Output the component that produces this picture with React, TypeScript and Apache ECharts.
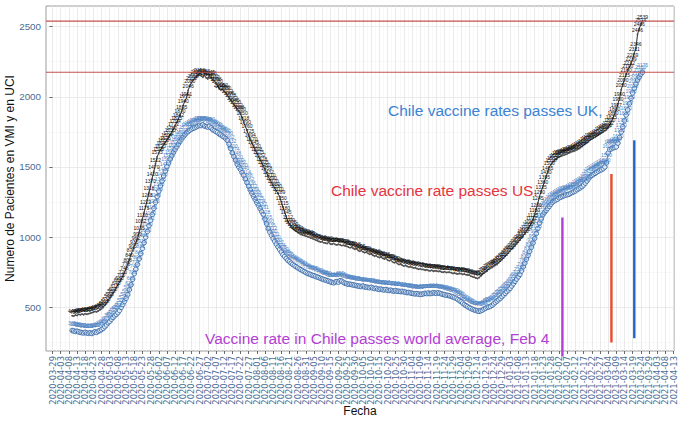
import React, { useEffect, useRef } from "react";
import * as echarts from "echarts";

// Day 0 of the x scale is 2020-03-29; values are daily from firstDay on.
const ORIGIN = Date.UTC(2020, 2, 29);
const firstDay = 12; // 2020-04-10

// Pacientes en UCI (black)
const uciValues = [
  440, 438, 445, 442, 450, 447, 452, 448, 455, 451,
  455, 458, 462, 466, 470, 468, 475, 482, 490, 500,
  515, 530, 548, 565, 582, 600, 618, 640, 660, 680,
  700, 720, 748, 778, 808, 840, 877, 905, 935, 962,
  990, 1035, 1082, 1130, 1175, 1222, 1268, 1318, 1370, 1420,
  1470, 1522, 1573, 1598, 1620, 1640, 1658, 1676, 1694, 1712,
  1730, 1750, 1772, 1794, 1815, 1842, 1870, 1895, 1940, 1971,
  1991, 2046, 2080, 2100, 2118, 2130, 2142, 2150, 2158, 2148,
  2140, 2152, 2135, 2128, 2145, 2138, 2120, 2112, 2098, 2080,
  2055, 2048, 2052, 2038, 2030, 2012, 1995, 1978, 1962, 1945,
  1930, 1912, 1898, 1880, 1850, 1818, 1790, 1760, 1725, 1694,
  1670, 1645, 1620, 1598, 1575, 1552, 1528, 1505, 1480, 1458,
  1432, 1410, 1390, 1370, 1350, 1330, 1310, 1289, 1250, 1215,
  1180, 1145, 1112, 1090, 1075, 1062, 1050, 1042, 1034, 1026,
  1020, 1015, 1012, 1008, 1004, 1000, 995, 990, 985, 980,
  975, 970, 965, 968, 960, 958, 955, 962, 952, 950,
  955, 948, 945, 950, 945, 940, 942, 938, 935, 930,
  925, 928, 920, 915, 918, 905, 900, 905, 895, 890,
  892, 885, 878, 880, 872, 865, 868, 860, 855, 858,
  850, 845, 848, 838, 832, 835, 825, 818, 822, 812,
  805, 808, 800, 795, 798, 792, 788, 790, 785, 780,
  782, 776, 772, 775, 770, 770, 765, 768, 762, 760,
  764, 758, 760, 760, 755, 758, 752, 750, 754, 748,
  750, 750, 746, 742, 745, 740, 738, 742, 740, 735,
  738, 732, 730, 730, 722, 718, 715, 710, 706, 712,
  722, 735, 745, 752, 760, 772, 778, 785, 792, 800,
  806, 818, 830, 840, 852, 865, 877, 890, 902, 915,
  928, 940, 955, 968, 980, 995, 1010, 1025, 1040, 1060,
  1080, 1102, 1125, 1160, 1200, 1245, 1290, 1325, 1360, 1395,
  1430, 1465, 1500, 1518, 1532, 1545, 1555, 1565, 1573, 1577,
  1582, 1585, 1590, 1594, 1600, 1605, 1610, 1612, 1618, 1623,
  1630, 1638, 1646, 1655, 1665, 1675, 1684, 1694, 1700, 1706,
  1712, 1720, 1728, 1736, 1744, 1751, 1758, 1765, 1782, 1800,
  1825, 1850, 1880, 1907, 1950, 1990, 2050, 2090, 2125, 2160,
  2190, 2212, 2239, 2269, 2311, 2346, 2446, 2486, 2514, 2539,
];

// Pacientes en VMI (blue)
const vmiValues = [
  335, 332, 328, 330, 325, 322, 320, 318, 322, 317,
  315, 318, 314, 320, 325, 322, 330, 335, 342, 350,
  362, 375, 390, 400, 415, 428, 440, 450, 462, 478,
  500, 520, 542, 564, 590, 625, 660, 700, 740, 772,
  806, 845, 882, 920, 960, 1000, 1040, 1082, 1120, 1161,
  1205, 1248, 1289, 1328, 1365, 1400, 1436, 1470, 1502, 1530,
  1556, 1580, 1603, 1624, 1644, 1664, 1682, 1700, 1715, 1730,
  1744, 1752, 1762, 1770, 1776, 1780, 1786, 1792, 1797, 1795,
  1800, 1792, 1788, 1785, 1790, 1778, 1765, 1760, 1752, 1746,
  1735, 1728, 1720, 1712, 1702, 1690, 1662, 1632, 1600, 1574,
  1548, 1520, 1500, 1482, 1460, 1440, 1414, 1388, 1362, 1336,
  1312, 1289, 1268, 1246, 1225, 1204, 1182, 1161, 1128, 1095,
  1060, 1035, 1012, 990, 970, 950, 930, 912, 894, 875,
  862, 848, 835, 825, 815, 806, 798, 790, 782, 775,
  768, 762, 755, 748, 742, 738, 733, 728, 725, 720,
  716, 712, 706, 702, 698, 695, 690, 686, 682, 678,
  675, 680, 684, 680, 690, 686, 678, 672, 668, 665,
  665, 662, 660, 657, 655, 652, 650, 648, 652, 646,
  644, 642, 640, 643, 638, 634, 636, 630, 628, 630,
  626, 624, 627, 622, 620, 622, 618, 616, 619, 615,
  614, 612, 614, 610, 608, 605, 606, 603, 600, 598,
  596, 598, 594, 592, 594, 597, 600, 598, 602, 598,
  600, 604, 602, 600, 603, 600, 596, 592, 590, 586,
  585, 582, 578, 574, 570, 564, 556, 548, 540, 530,
  520, 512, 505, 498, 492, 486, 482, 478, 475, 472,
  476, 480, 488, 494, 500, 504, 507, 515, 525, 535,
  545, 555, 564, 576, 588, 600, 612, 624, 635, 652,
  668, 685, 702, 718, 735, 760, 788, 815, 843, 870,
  898, 928, 958, 990, 1025, 1062, 1100, 1130, 1160, 1175,
  1190, 1205, 1220, 1235, 1250, 1258, 1265, 1270, 1280, 1285,
  1290, 1295, 1300, 1303, 1306, 1312, 1318, 1324, 1330, 1338,
  1346, 1352, 1360, 1372, 1385, 1400, 1416, 1431, 1440, 1447,
  1455, 1462, 1470, 1478, 1481, 1488, 1500, 1530, 1600, 1625,
  1630, 1636, 1640, 1644, 1670, 1710, 1750, 1786, 1830, 1870,
  1907, 1950, 1990, 2028, 2060, 2090, 2120, 2140, 2160, 2175,
];

// Horizontal reference levels (max of each series)
const refLevels = [2539, 2175];

// Vaccine milestones: day index, segment bottom, segment top
const eventDays = [312, 342, 356];
const eventLow = [150, 250, 280];
const eventHigh = [1140, 1450, 1690];

const annotationTexts = [
  "Chile vaccine rates passes UK,",
  "Chile vaccine rate passes US.",
  "Vaccine rate in Chile passes world average, Feb 4",
];

// Axis ticks
const xTickDays: number[] = [];
for (let d = 0; d <= 380; d += 5) xTickDays.push(d);
const xMinorDays: number[] = [];
for (let d = 2.5; d <= 380; d += 5) xMinorDays.push(d);
const yTicks = [500, 1000, 1500, 2000, 2500];
const yMinor = [250, 750, 1250, 1750, 2250];

const X_MIN = -4;
const X_MAX = 380.3;
const FONT = '"Liberation Sans", Arial, Helvetica, sans-serif';
const TICK_FONT = '"DejaVu Sans", "Liberation Sans", sans-serif';

function dayLabel(d: number): string {
  const dt = new Date(ORIGIN + Math.round(d) * 86400000);
  return dt.toISOString().slice(0, 10);
}

export default function App() {
  const ref = useRef<HTMLDivElement>(null);

  useEffect(() => {
    document.body.style.margin = "0";
    if (!ref.current) return;
    const chart = echarts.init(ref.current, undefined, { renderer: "svg" });

    const uciData = uciValues.map((v, i) => [firstDay + i, v]);
    const vmiData = vmiValues.map((v, i) => [firstDay + i, v]);
    const eventColors = ["#b23fd4", "#ec4a2c", "#1f62c9"];

    const eventSeries = eventDays.map((d, i) => ({
      type: "line",
      data: [
        [d, eventLow[i]],
        [d, eventHigh[i]],
      ],
      symbol: "none",
      clip: false,
      silent: true,
      z: 5,
      lineStyle: { color: eventColors[i], width: 2.4 },
    }));

    const refSeries = refLevels.map((v) => ({
      type: "line",
      data: [
        [X_MIN, v],
        [X_MAX, v],
      ],
      symbol: "none",
      silent: true,
      z: 6,
      lineStyle: { color: "#c4504e", width: 1.1 },
    }));

    const option: any = {
      animation: false,
      backgroundColor: "#ffffff",
      textStyle: { fontFamily: FONT },
      grid: {
        left: 46,
        right: 6,
        top: 6,
        bottom: 74,
        show: true,
        borderColor: "#9c9c9c",
        borderWidth: 1,
        backgroundColor: "#ffffff",
        containLabel: false,
        outerBoundsMode: "none",
      },
      xAxis: [
        {
          type: "value",
          min: X_MIN,
          max: X_MAX,
          position: "bottom",
          axisLine: { show: false },
          axisTick: {
            show: true,
            customValues: xTickDays,
            length: 3,
            lineStyle: { color: "#444", width: 0.8 },
          },
          axisLabel: {
            customValues: xTickDays,
            rotate: 90,
            margin: 5,
            fontSize: 8.4,
            lineHeight: 7,
            fontFamily: TICK_FONT,
            color: "#4a6c95",
            showMinLabel: true,
            showMaxLabel: true,
            formatter: (v: number) => dayLabel(v),
          },
          splitLine: { show: true, lineStyle: { color: "#e6e6e6", width: 0.9 } },
          name: "Fecha",
          nameLocation: "middle",
          nameGap: 54,
          nameMoveOverlap: false,
          nameTextStyle: { fontSize: 12, color: "#111", fontFamily: FONT },
        },
        {
          type: "value",
          min: X_MIN,
          max: X_MAX,
          position: "bottom",
          axisLine: { show: false },
          axisTick: { show: false, customValues: xMinorDays },
          axisLabel: { show: false },
          splitLine: { show: true, lineStyle: { color: "#f0f0f0", width: 0.5 } },
        },
      ],
      yAxis: [
        {
          type: "value",
          min: 189,
          max: 2647,
          position: "left",
          axisLine: { show: false },
          axisTick: {
            show: true,
            customValues: yTicks,
            length: 3,
            lineStyle: { color: "#444", width: 0.8 },
          },
          axisLabel: {
            customValues: yTicks,
            margin: 5,
            fontSize: 9.8,
            fontFamily: FONT,
            color: "#4a6c95",
            formatter: (v: number) => String(v),
          },
          splitLine: { show: true, lineStyle: { color: "#e6e6e6", width: 0.9 } },
          name: "Numero de Pacientes en VMI y en UCI",
          nameLocation: "middle",
          nameGap: 30,
          nameRotate: 90,
          nameMoveOverlap: false,
          nameTextStyle: { fontSize: 12, color: "#111", fontFamily: FONT },
        },
        {
          type: "value",
          min: 189,
          max: 2647,
          position: "left",
          axisLine: { show: false },
          axisTick: { show: false, customValues: yMinor },
          axisLabel: { show: false },
          splitLine: { show: true, lineStyle: { color: "#f0f0f0", width: 0.5 } },
        },
      ],
      series: [
        {
          type: "line",
          name: "VMI",
          data: vmiData,
          symbol: "circle",
          symbolSize: 4.6,
          z: 3,
          itemStyle: { color: "#dfe8f4", borderColor: "#3e6eab", borderWidth: 1 },
          lineStyle: { color: "#3e6eab", width: 0.9 },
          label: {
            show: true,
            position: "top",
            distance: 2,
            fontSize: 5,
            color: "#4f84c4",
            formatter: (p: any) => String(p.value[1]),
          },
        },
        {
          type: "line",
          name: "UCI",
          data: uciData,
          symbol: "circle",
          symbolSize: 1.8,
          z: 4,
          itemStyle: { color: "#555" },
          lineStyle: { color: "#111", width: 0.9 },
          label: {
            show: true,
            position: "top",
            distance: 1,
            fontSize: 5,
            color: "#111",
            formatter: (p: any) => String(p.value[1]),
          },
        },
        ...refSeries,
        ...eventSeries,
      ],
      graphic: [
        {
          type: "text",
          left: 388,
          top: 102,
          z: 10,
          style: { text: annotationTexts[0], fill: "#3b83d4", fontSize: 15.5, fontFamily: FONT },
        },
        {
          type: "text",
          left: 331,
          top: 182,
          z: 10,
          style: { text: annotationTexts[1], fill: "#e5343f", fontSize: 15.5, fontFamily: FONT },
        },
        {
          type: "text",
          left: 205,
          top: 330,
          z: 10,
          style: { text: annotationTexts[2], fill: "#b23fd4", fontSize: 15.5, fontFamily: FONT },
        },
      ],
    };

    chart.setOption(option);
    return () => chart.dispose();
  }, []);

  return <div ref={ref} style={{ width: 680, height: 425 }} />;
}
